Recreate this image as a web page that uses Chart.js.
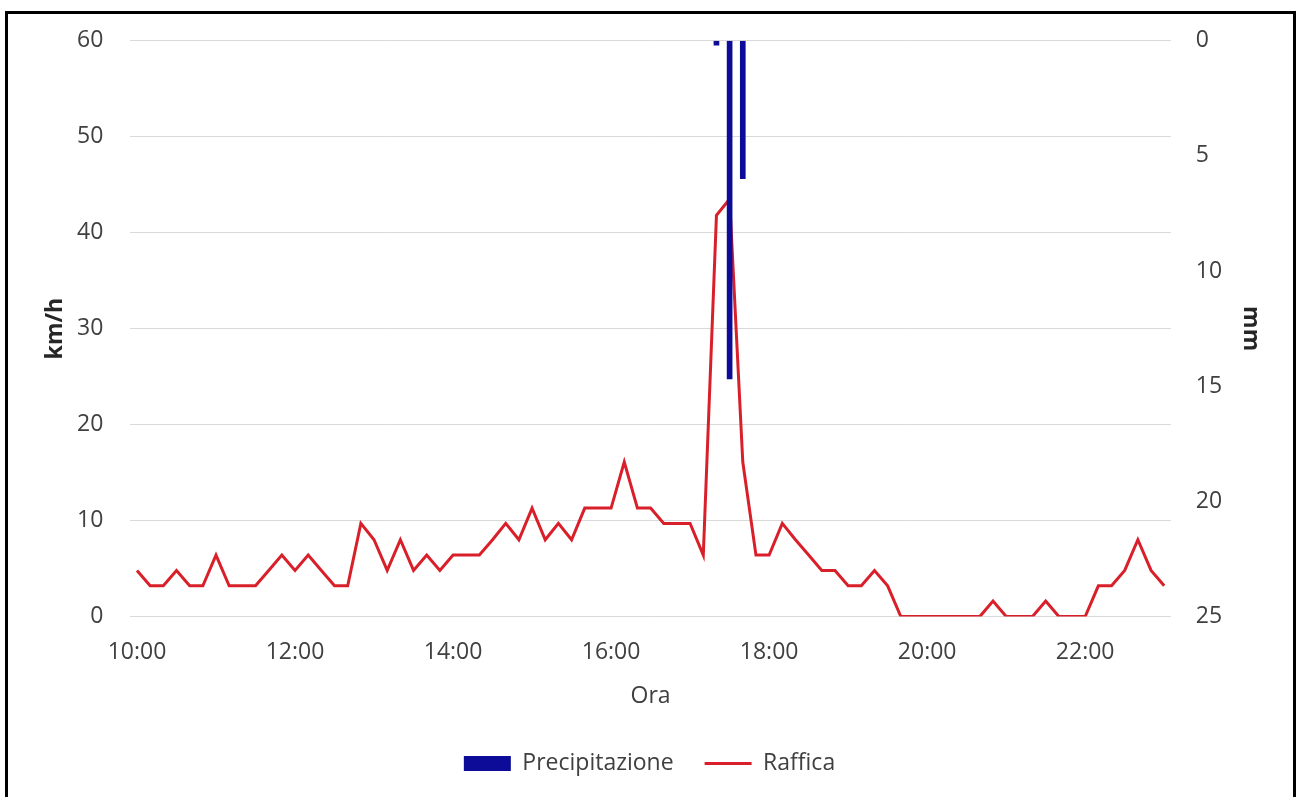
<!DOCTYPE html>
<html>
<head>
<meta charset="utf-8">
<title>Precipitazione e Raffica</title>
<script src="https://cdn.jsdelivr.net/npm/chart.js@4.4.1/dist/chart.umd.min.js"></script>
<style>
  html, body { margin: 0; padding: 0; background: #fff; }
  #wrap { position: relative; width: 1299px; height: 797px; overflow: hidden; }
  #c { position: absolute; left: 0; top: 0; }
  #frame {
    position: absolute; left: 5px; top: 11px; width: 1291px; height: 800px;
    border: 3px solid #000; border-bottom: none; box-sizing: border-box;
    pointer-events: none;
  }
</style>
</head>
<body>
<div id="wrap">
  <canvas id="c" width="1299" height="797"></canvas>
  <div id="frame"></div>
</div>
<script>
// orari ogni 10 minuti
const timeLabels = [
  '10:00','10:10','10:20','10:30','10:40','10:50',
  '11:00','11:10','11:20','11:30','11:40','11:50',
  '12:00','12:10','12:20','12:30','12:40','12:50',
  '13:00','13:10','13:20','13:30','13:40','13:50',
  '14:00','14:10','14:20','14:30','14:40','14:50',
  '15:00','15:10','15:20','15:30','15:40','15:50',
  '16:00','16:10','16:20','16:30','16:40','16:50',
  '17:00','17:10','17:20','17:30','17:40','17:50',
  '18:00','18:10','18:20','18:30','18:40','18:50',
  '19:00','19:10','19:20','19:30','19:40','19:50',
  '20:00','20:10','20:20','20:30','20:40','20:50',
  '21:00','21:10','21:20','21:30','21:40','21:50',
  '22:00','22:10','22:20','22:30','22:40','22:50',
  '23:00'
];

// raffica km/h
const raffica = [
  4.8, 3.2, 3.2, 4.8, 3.2, 3.2,
  6.4, 3.2, 3.2, 3.2, 4.8, 6.4,
  4.8, 6.4, 4.8, 3.2, 3.2, 9.7,
  8.0, 4.8, 8.0, 4.8, 6.4, 4.8,
  6.4, 6.4, 6.4, 8.0, 9.7, 8.0,
  11.3, 8.0, 9.7, 8.0, 11.3, 11.3,
  11.3, 16.1, 11.3, 11.3, 9.7, 9.7,
  9.7, 6.4, 41.8, 43.5, 16.1, 6.4,
  6.4, 9.7, 8.0, 6.4, 4.8, 4.8,
  3.2, 3.2, 4.8, 3.2, 0, 0,
  0, 0, 0, 0, 0, 1.6,
  0, 0, 0, 1.6, 0, 0,
  0, 3.2, 3.2, 4.8, 8.0, 4.8,
  3.2
];

// precipitazione mm
const precipitazione = [
  null, null, null, null, null, null,
  null, null, null, null, null, null,
  null, null, null, null, null, null,
  null, null, null, null, null, null,
  null, null, null, null, null, null,
  null, null, null, null, null, null,
  null, null, null, null, null, null,
  null, null, 0.2, 14.7, 6.0, null,
  null, null, null, null, null, null,
  null, null, null, null, null, null,
  null, null, null, null, null, null,
  null, null, null, null, null, null,
  null, null, null, null, null, null,
  null
];

const kmhTicks = [0, 10, 20, 30, 40, 50, 60];
const mmTicks = [0, 5, 10, 15, 20, 25];

const textColor = '#404040';
const baseFont = { family: 'Open Sans', size: 23 };
const boldFont = { family: 'Open Sans', size: 23, weight: 'bold' };

const ctx = document.getElementById('c').getContext('2d');
new Chart(ctx, {
  type: 'bar',
  data: {
    labels: timeLabels,
    datasets: [
      {
        label: 'Precipitazione',
        data: precipitazione,
        yAxisID: 'y1',
        backgroundColor: '#0c0c99',
        borderWidth: 0,
        barPercentage: 0.43,
        categoryPercentage: 1,
        pointStyle: 'rect'
      },
      {
        type: 'line',
        label: 'Raffica',
        data: raffica,
        yAxisID: 'y',
        borderColor: '#d9202a',
        backgroundColor: '#d9202a',
        borderWidth: 3,
        pointRadius: 0,
        tension: 0,
        fill: false,
        pointStyle: 'line'
      }
    ]
  },
  options: {
    responsive: false,
    devicePixelRatio: 1,
    animation: false,
    layout: { padding: { top: 37.7, bottom: 12, left: 0, right: 0 } },
    plugins: {
      tooltip: { enabled: false },
      legend: {
        position: 'bottom',
        labels: {
          usePointStyle: true,
          pointStyleWidth: 47,
          boxHeight: 15,
          padding: 31,
          font: baseFont,
          color: textColor
        }
      }
    },
    scales: {
      x: {
        offset: true,
        grid: { display: false },
        border: { display: false },
        ticks: {
          autoSkip: false,
          maxRotation: 0,
          minRotation: 0,
          padding: 14,
          font: baseFont,
          color: textColor,
          callback: (v, i) => (i % 12 === 0 ? timeLabels[i] : '')
        },
        title: { display: true, text: 'Ora', font: baseFont, color: textColor, padding: { top: 0, bottom: 11 } },
        afterFit: (s) => { s.height = 104.5; }
      },
      y: {
        position: 'left',
        min: kmhTicks[0],
        max: kmhTicks[kmhTicks.length - 1],
        grid: { color: '#d9d9d9', lineWidth: 1, drawTicks: false },
        border: { display: false },
        ticks: { stepSize: 10, padding: 27, font: baseFont, color: textColor },
        title: { display: true, text: 'km/h', font: boldFont, color: '#262626', padding: { top: 42, bottom: 0 } },
        afterFit: (s) => { s.width = 130.4; }
      },
      y1: {
        position: 'right',
        reverse: true,
        min: mmTicks[0],
        max: mmTicks[mmTicks.length - 1],
        grid: { display: false, drawTicks: false },
        border: { display: false },
        ticks: { stepSize: 5, padding: 25, font: baseFont, color: textColor },
        title: { display: true, text: 'mm', font: boldFont, color: '#262626', padding: { top: 35, bottom: 0 } },
        afterFit: (s) => { s.width = 128.2; }
      }
    }
  }
});
</script>
</body>
</html>
